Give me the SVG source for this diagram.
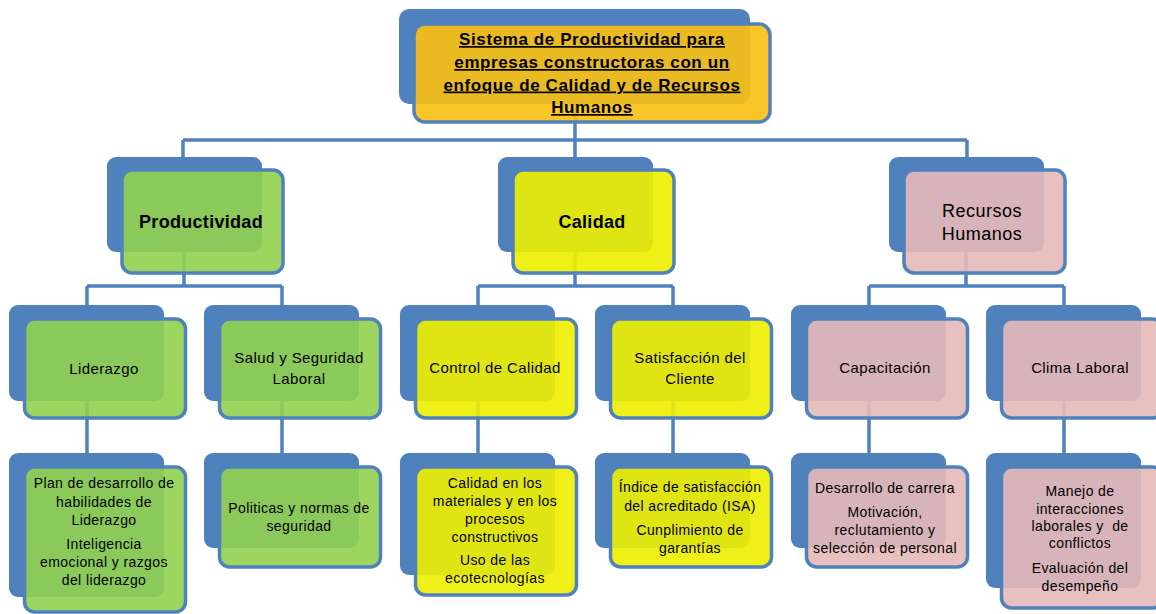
<svg xmlns="http://www.w3.org/2000/svg" width="1156" height="614" viewBox="0 0 1156 614">
<style>
.bk{fill:#4F81BD}
.fr{stroke:#4F81BD;stroke-width:3.5;fill-opacity:0.9}
.g{fill:#92D050}.y{fill:#EEEE00}.p{fill:#E6B9B8}.o{fill:#FAC010}
.c{fill:none;stroke:#4F81BD;stroke-width:3.5;stroke-linejoin:miter}
text{font-family:"Liberation Sans",Arial,sans-serif;fill:#000;text-anchor:middle}
.t0{font-size:17px;font-weight:bold;text-decoration:underline;letter-spacing:0.6px}
.t1{font-size:18px;font-weight:bold;letter-spacing:0.3px}
.t1n{font-size:18px;letter-spacing:0.5px}
.t2{font-size:15px;letter-spacing:0.4px}
.t3{font-size:14px;letter-spacing:0.4px}
</style>
<rect width="1156" height="614" fill="#fff"/>
<g id="connectors">
<path class="c" d="M575,100V140M183,140H967M183,140V158M575,140V158M967,140V158"/>
<path class="c" d="M184,252V286M87,286H282M87,286V306M282,286V306M87,401V454M282,401V454"/>
<path class="c" d="M575,252V286M478,286H673M478,286V306M673,286V306M478,401V454M673,401V454"/>
<path class="c" d="M966,252V286M869,286H1064M869,286V306M1064,286V306M869,401V454M1064,401V454"/>
</g>
<g id="root">
<rect class="bk" x="399" y="9" width="351" height="95" rx="10"/>
<rect class="fr o" x="414" y="24" width="356" height="98" rx="11"/>
<text class="t0" x="592" y="45">Sistema de Productividad para</text>
<text class="t0" x="592" y="68">empresas constructoras con un</text>
<text class="t0" x="592" y="90.5">enfoque de Calidad y de Recursos</text>
<text class="t0" x="592" y="113">Humanos</text>
</g>
<g id="productividad">
<rect class="bk" x="107" y="157" width="155" height="95" rx="9"/>
<rect class="fr g" x="122" y="170" width="161" height="103" rx="10"/>
<text class="t1" x="201" y="227.5">Productividad</text>
</g>
<g id="calidad">
<rect class="bk" x="498" y="157" width="155" height="95" rx="9"/>
<rect class="fr y" x="513" y="170" width="161" height="103" rx="10"/>
<text class="t1" x="592" y="227.5">Calidad</text>
</g>
<g id="recursos">
<rect class="bk" x="889" y="157" width="155" height="95" rx="9"/>
<rect class="fr p" x="904" y="170" width="161" height="103" rx="10"/>
<text class="t1n" x="982" y="216.5">Recursos</text>
<text class="t1n" x="982" y="239.5">Humanos</text>
</g>
<g id="liderazgo">
<rect class="bk" x="9" y="305" width="155" height="96" rx="9"/>
<rect class="fr g" x="24.5" y="319" width="161" height="99" rx="10"/>
<text class="t2" x="104" y="374">Liderazgo</text>
</g>
<g id="salud">
<rect class="bk" x="204" y="305" width="155" height="96" rx="9"/>
<rect class="fr g" x="219.5" y="319" width="161" height="99" rx="10"/>
<text class="t2" x="299" y="363">Salud y Seguridad</text>
<text class="t2" x="299" y="384">Laboral</text>
</g>
<g id="control">
<rect class="bk" x="400" y="305" width="155" height="96" rx="9"/>
<rect class="fr y" x="415.5" y="319" width="161" height="99" rx="10"/>
<text class="t2" x="495" y="373">Control de Calidad</text>
</g>
<g id="satisfaccion">
<rect class="bk" x="595" y="305" width="155" height="96" rx="9"/>
<rect class="fr y" x="610.5" y="319" width="161" height="99" rx="10"/>
<text class="t2" x="690" y="363">Satisfacción del</text>
<text class="t2" x="690" y="384">Cliente</text>
</g>
<g id="capacitacion">
<rect class="bk" x="791" y="305" width="155" height="96" rx="9"/>
<rect class="fr p" x="806.5" y="319" width="161" height="99" rx="10"/>
<text class="t2" x="885" y="373">Capacitación</text>
</g>
<g id="clima">
<rect class="bk" x="986" y="305" width="155" height="96" rx="9"/>
<rect class="fr p" x="1001.5" y="319" width="161" height="99" rx="10"/>
<text class="t2" x="1080" y="373">Clima Laboral</text>
</g>
<g id="plan">
<rect class="bk" x="9" y="453" width="155" height="144" rx="9"/>
<rect class="fr g" x="24.5" y="467" width="161" height="145" rx="10"/>
<text class="t3" x="104" y="488">Plan de desarrollo de</text>
<text class="t3" x="104" y="506.5">habilidades de</text>
<text class="t3" x="104" y="525">Liderazgo</text>
<text class="t3" x="104" y="549">Inteligencia</text>
<text class="t3" x="104" y="567">emocional y razgos</text>
<text class="t3" x="104" y="585">del liderazgo</text>
</g>
<g id="politicas">
<rect class="bk" x="204" y="453" width="155" height="95" rx="9"/>
<rect class="fr g" x="219.5" y="467" width="161" height="100" rx="10"/>
<text class="t3" x="299" y="513">Politicas y normas de</text>
<text class="t3" x="299" y="531">seguridad</text>
</g>
<g id="materiales">
<rect class="bk" x="400" y="453" width="155" height="122" rx="9"/>
<rect class="fr y" x="415.5" y="467" width="161" height="128" rx="10"/>
<text class="t3" x="495" y="488">Calidad en los</text>
<text class="t3" x="495" y="506">materiales y en los</text>
<text class="t3" x="495" y="524">procesos</text>
<text class="t3" x="495" y="542">constructivos</text>
<text class="t3" x="495" y="565">Uso de las</text>
<text class="t3" x="495" y="583">ecotecnologías</text>
</g>
<g id="indice">
<rect class="bk" x="595" y="453" width="155" height="95" rx="9"/>
<rect class="fr y" x="610.5" y="467" width="161" height="100" rx="10"/>
<text class="t3" x="690" y="492">Índice de satisfacción</text>
<text class="t3" x="690" y="511">del acreditado (ISA)</text>
<text class="t3" x="690" y="535">Cunplimiento de</text>
<text class="t3" x="690" y="553">garantías</text>
</g>
<g id="desarrollo">
<rect class="bk" x="791" y="453" width="155" height="95" rx="9"/>
<rect class="fr p" x="806.5" y="467" width="161" height="100" rx="10"/>
<text class="t3" x="885" y="493">Desarrollo de carrera</text>
<text class="t3" x="885" y="517">Motivación,</text>
<text class="t3" x="885" y="535">reclutamiento y</text>
<text class="t3" x="885" y="553">selección de personal</text>
</g>
<g id="manejo">
<rect class="bk" x="986" y="453" width="155" height="135" rx="9"/>
<rect class="fr p" x="1001.5" y="467" width="161" height="141" rx="10"/>
<text class="t3" x="1080" y="496">Manejo de</text>
<text class="t3" x="1080" y="514">interacciones</text>
<text class="t3" x="1080" y="531" xml:space="preserve">laborales y  de</text>
<text class="t3" x="1080" y="548">conflictos</text>
<text class="t3" x="1080" y="573">Evaluación del</text>
<text class="t3" x="1080" y="591">desempeño</text>
</g>
</svg>
